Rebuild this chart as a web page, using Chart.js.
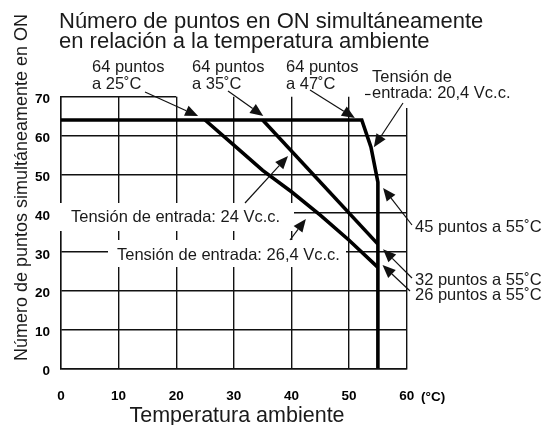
<!DOCTYPE html>
<html>
<head>
<meta charset="utf-8">
<script src="https://cdn.jsdelivr.net/npm/chart.js@4.4.1/dist/chart.umd.min.js"></script>
<style>
  html, body { margin: 0; padding: 0; background: #fff; }
  #wrap { width: 543px; height: 425px; position: relative; }
</style>
</head>
<body>
<div id="wrap"><canvas id="chart"></canvas></div>
<script>
const xTicks = [0, 10, 20, 30, 40, 50, 60]
const yTicks = [0, 10, 20, 30, 40, 50, 60, 70]

// Tensión de entrada 20,4 Vc.c.
const temp204 = [0, 47, 52.2, 53.8, 55, 55, 55]
const pts204 = [64, 64, 64, 57, 48, 45, 0]
// Tensión de entrada 24 Vc.c.
const temp24 = [35, 55]
const pts24 = [64, 32]
// Tensión de entrada 26,4 Vc.c.
const temp264 = [25, 30, 35, 40, 45, 50, 55]
const pts264 = [64, 57.5, 51, 45.5, 39.5, 33, 26]

const toXY = (xs, ys) => xs.map((x, i) => ({ x, y: ys[i] }))

const FONT = '"Liberation Sans", Arial, sans-serif'
const INK = '#1a1a1a'

// arrow tips sit in data space, tails next to their labels
const arrows = [
  { from: [145, 92], to: [23.8, 65] },
  { from: [228, 91], to: [35.1, 65] },
  { from: [310, 90], to: [51, 64.5] },
  { from: [403, 103], to: [54.3, 57] },
  { from: [245, 203], to: [39.4, 54.7] },
  { from: [290, 240], to: [42.5, 38.5] },
  { from: [412, 225], to: [55.9, 46.5] },
  { from: [412, 278], to: [55.9, 30.7] },
  { from: [410, 291], to: [55.8, 26.6] }
]

const notes = [
  { text: '64 puntos', x: 92, y: 72 },
  { text: 'a 25˚C', x: 92, y: 88.5 },
  { text: '64 puntos', x: 192, y: 72 },
  { text: 'a 35˚C', x: 192, y: 88.5 },
  { text: '64 puntos', x: 286, y: 72 },
  { text: 'a 47˚C', x: 286, y: 88.5 },
  { text: 'Tensión de', x: 372, y: 82 },
  { text: 'entrada: 20,4 Vc.c.', x: 372, y: 97.5 },
  { text: 'Tensión de entrada: 24 Vc.c.', x: 71, y: 222 },
  { text: 'Tensión de entrada: 26,4 Vc.c.', x: 117, y: 260 },
  { text: '45 puntos a 55˚C', x: 415, y: 232 },
  { text: '32 puntos a 55˚C', x: 415, y: 285 },
  { text: '26 puntos a 55˚C', x: 415, y: 300 }
]

function drawArrow(ctx, x1, y1, x2, y2) {
  const a = Math.atan2(y2 - y1, x2 - x1)
  const len = 13, half = 5.5
  const bx = x2 - len * Math.cos(a), by = y2 - len * Math.sin(a)
  ctx.beginPath()
  ctx.moveTo(x1, y1)
  ctx.lineTo(bx, by)
  ctx.stroke()
  ctx.beginPath()
  ctx.moveTo(x2, y2)
  ctx.lineTo(bx + half * Math.sin(a), by - half * Math.cos(a))
  ctx.lineTo(bx - half * Math.sin(a), by + half * Math.cos(a))
  ctx.closePath()
  ctx.fill()
}

const callouts = {
  id: 'callouts',
  beforeDatasetsDraw(chart) {
    const { ctx, scales: { x, y } } = chart
    ctx.save()
    // white backing behind the voltage labels hides the grid there
    ctx.fillStyle = '#fff'
    ctx.fillRect(58, 203, 236, 28)
    ctx.fillRect(108, 240, 238, 27)
    ctx.fillRect(395, 60, 148, 48)
    // top frame only runs to 20 ˚C
    ctx.strokeStyle = '#111'
    ctx.lineWidth = 1.4
    ctx.beginPath()
    ctx.moveTo(x.getPixelForValue(0), y.getPixelForValue(70))
    ctx.lineTo(x.getPixelForValue(20), y.getPixelForValue(70))
    ctx.stroke()
    ctx.restore()
  },
  afterDatasetsDraw(chart) {
    const { ctx, scales: { x, y } } = chart
    ctx.save()
    ctx.strokeStyle = '#111'
    ctx.fillStyle = '#111'
    ctx.lineWidth = 1.2
    arrows.forEach(a => {
      drawArrow(ctx, a.from[0], a.from[1], x.getPixelForValue(a.to[0]), y.getPixelForValue(a.to[1]))
    })
    // short lead-in before "entrada: 20,4"
    ctx.beginPath()
    ctx.moveTo(365, 94.5)
    ctx.lineTo(370.5, 94.5)
    ctx.stroke()
    ctx.restore()
  },
  afterDraw(chart) {
    const { ctx } = chart
    ctx.save()
    ctx.fillStyle = INK
    ctx.textBaseline = 'alphabetic'
    ctx.textAlign = 'left'

    ctx.font = '22px ' + FONT
    ctx.fillText('Número de puntos en ON simultáneamente', 59, 27.5)
    ctx.fillText('en relación a la temperatura ambiente', 59, 48)

    ctx.font = '16.5px ' + FONT
    notes.forEach(n => ctx.fillText(n.text, n.x, n.y))

    ctx.font = '21.5px ' + FONT
    ctx.textAlign = 'center'
    ctx.fillText('Temperatura ambiente', 237, 422)

    ctx.save()
    ctx.translate(27, 187.5)
    ctx.rotate(-Math.PI / 2)
    ctx.font = '18px ' + FONT
    ctx.fillText('Número de puntos simultáneamente en ON', 0, 0)
    ctx.restore()

    ctx.fillStyle = '#000'
    ctx.font = 'bold 13.5px ' + FONT
    ctx.textAlign = 'left'
    ctx.textBaseline = 'middle'
    ctx.fillText('(°C)', 421, 397)
    ctx.restore()
  }
}

const lineStyle = {
  borderColor: '#000',
  borderWidth: 3.6,
  pointRadius: 0,
  tension: 0,
  fill: false,
  borderJoinStyle: 'miter'
}

new Chart(document.getElementById('chart'), {
  type: 'line',
  data: {
    datasets: [
      { label: '20,4 Vc.c.', data: toXY(temp204, pts204), ...lineStyle },
      { label: '24 Vc.c.', data: toXY(temp24, pts24), ...lineStyle },
      { label: '26,4 Vc.c.', data: toXY(temp264, pts264), ...lineStyle }
    ]
  },
  options: {
    responsive: true,
    maintainAspectRatio: false,
    animation: false,
    layout: { padding: { top: 96.7, right: 136.3, left: 0, bottom: 0 } },
    plugins: {
      legend: { display: false },
      tooltip: { enabled: false }
    },
    scales: {
      x: {
        type: 'linear',
        min: 0,
        max: 60,
        afterFit: s => { s.height = 56.7 },
        afterBuildTicks: s => { s.ticks = xTicks.map(v => ({ value: v })) },
        grid: { color: '#111', lineWidth: 1.4, drawTicks: false },
        border: { color: '#111', width: 1.4 },
        ticks: {
          padding: 20,
          color: '#000',
          font: { family: FONT, size: 13.5, weight: 'bold' }
        }
      },
      y: {
        type: 'linear',
        min: 0,
        max: 70,
        afterFit: s => { s.width = 61 },
        afterBuildTicks: s => { s.ticks = yTicks.map(v => ({ value: v })) },
        grid: {
          color: c => (c.tick && c.tick.value === 70 ? 'rgba(0,0,0,0)' : '#111'),
          lineWidth: 1.4,
          drawTicks: false
        },
        border: { color: '#111', width: 1.4 },
        ticks: {
          padding: 11,
          labelOffset: 3,
          color: '#000',
          font: { family: FONT, size: 13.5, weight: 'bold' }
        }
      }
    }
  },
  plugins: [callouts]
})
</script>
</body>
</html>
